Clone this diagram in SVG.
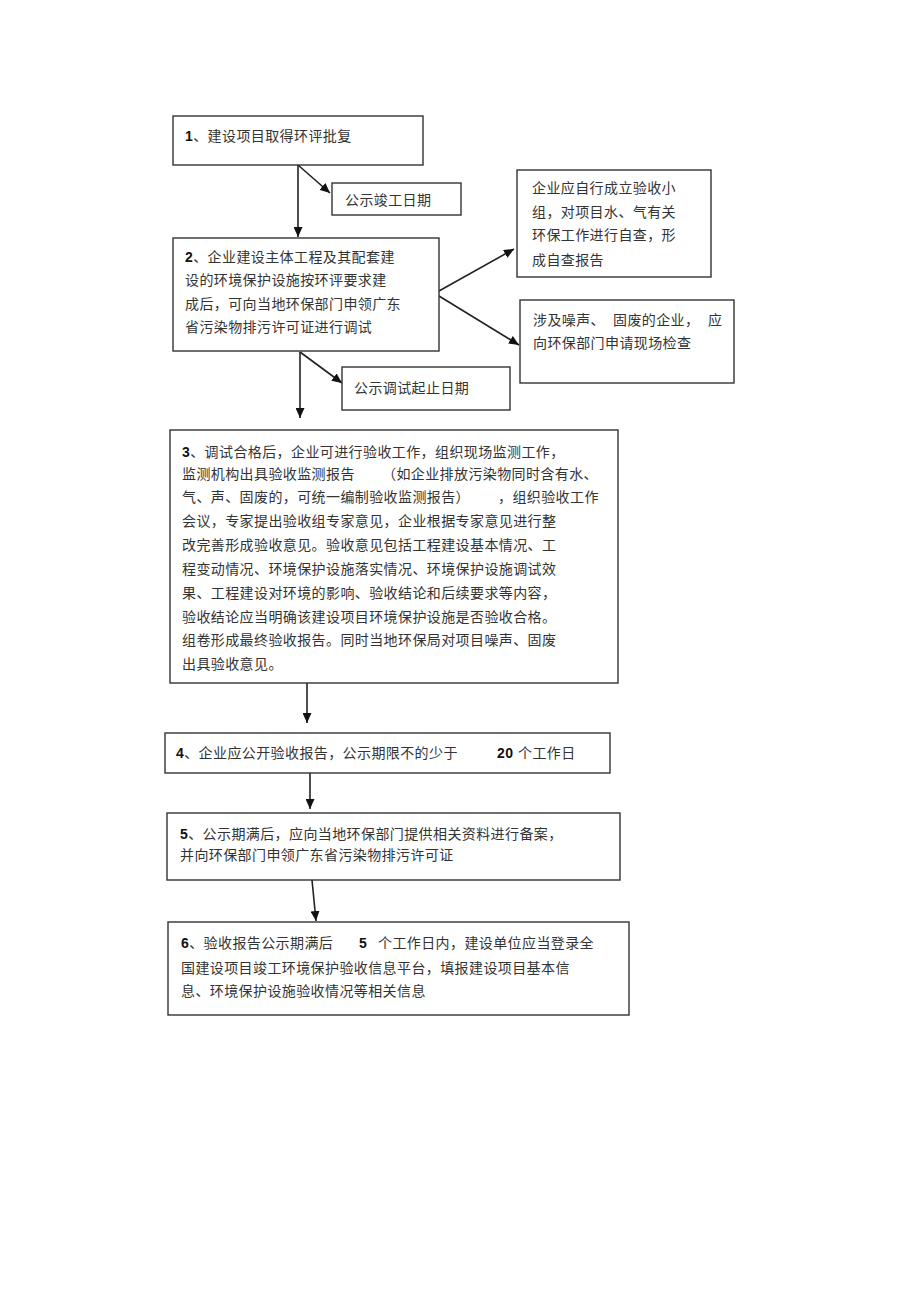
<svg xmlns="http://www.w3.org/2000/svg" width="920" height="1303" viewBox="0 0 920 1303">
<defs>
<marker id="arr" markerUnits="userSpaceOnUse" markerWidth="11" markerHeight="9" refX="10" refY="4.5" orient="auto">
<path d="M0,0 L10,4.5 L0,9 z" fill="#111"/>
</marker>
<style>
.box{fill:#fff;stroke:#333;stroke-width:1.4}
.t{font-family:"Liberation Sans","Noto Sans CJK SC",sans-serif;font-size:14px;letter-spacing:0.4px;fill:#333}
.n{font-weight:bold;fill:#111}
.c{stroke:#222;stroke-width:1.6;fill:none;marker-end:url(#arr)}
</style>
</defs>
<rect width="920" height="1303" fill="#fff"/>
<g id="connectors">
<line class="c" x1="298" y1="165" x2="298" y2="237"/>
<line class="c" x1="298" y1="165" x2="330" y2="193"/>
<line class="c" x1="439" y1="291" x2="514" y2="249"/>
<line class="c" x1="439" y1="296" x2="519" y2="345"/>
<line class="c" x1="300" y1="352" x2="300" y2="418"/>
<line class="c" x1="300" y1="352" x2="342" y2="383"/>
<line class="c" x1="307" y1="683" x2="307" y2="723"/>
<line class="c" x1="310" y1="773" x2="310" y2="809"/>
<line class="c" x1="312" y1="880" x2="316" y2="921"/>
</g>
<g id="node1">
<rect class="box" x="173" y="116" width="250" height="49"/>
<text class="t" x="185" y="141"><tspan class="n">1</tspan>、建设项目取得环评批复</text>
</g>
<g id="node1a">
<rect class="box" x="332" y="183" width="129" height="32"/>
<text class="t" x="345" y="205">公示竣工日期</text>
</g>
<g id="node2">
<rect class="box" x="173" y="238" width="266" height="113"/>
<text class="t" x="185" y="262"><tspan class="n">2</tspan>、企业建设主体工程及其配套建</text>
<text class="t" x="185" y="285">设的环境保护设施按环评要求建</text>
<text class="t" x="185" y="309">成后，可向当地环保部门申领广东</text>
<text class="t" x="185" y="332">省污染物排污许可证进行调试</text>
</g>
<g id="node2a">
<rect class="box" x="342" y="367" width="168" height="43"/>
<text class="t" x="354" y="393">公示调试起止日期</text>
</g>
<g id="node2b">
<rect class="box" x="517" y="170" width="194" height="107"/>
<text class="t" x="532" y="193">企业应自行成立验收小</text>
<text class="t" x="532" y="217">组，对项目水、气有关</text>
<text class="t" x="532" y="240">环保工作进行自查，形</text>
<text class="t" x="532" y="265">成自查报告</text>
</g>
<g id="node2c">
<rect class="box" x="520" y="300" width="214" height="83"/>
<text class="t" x="533" y="325">涉及噪声、<tspan x="613">固废的企业，</tspan><tspan x="708">应</tspan></text>
<text class="t" x="533" y="348">向环保部门申请现场检查</text>
</g>
<g id="node3">
<rect class="box" x="170" y="430" width="448" height="253"/>
<text class="t" x="182" y="457"><tspan class="n">3</tspan>、调试合格后，企业可进行验收工作，组织现场监测工作，</text>
<text class="t" x="182" y="479">监测机构出具验收监测报告<tspan x="382">（如企业排放污染物同时含有水、</tspan></text>
<text class="t" x="182" y="502">气、声、固废的，可统一编制验收监测报告）<tspan x="498">，组织验收工作</tspan></text>
<text class="t" x="182" y="526">会议，专家提出验收组专家意见，企业根据专家意见进行整</text>
<text class="t" x="182" y="550">改完善形成验收意见。验收意见包括工程建设基本情况、工</text>
<text class="t" x="182" y="574">程变动情况、环境保护设施落实情况、环境保护设施调试效</text>
<text class="t" x="182" y="598">果、工程建设对环境的影响、验收结论和后续要求等内容，</text>
<text class="t" x="182" y="622">验收结论应当明确该建设项目环境保护设施是否验收合格。</text>
<text class="t" x="182" y="645">组卷形成最终验收报告。同时当地环保局对项目噪声、固废</text>
<text class="t" x="182" y="669">出具验收意见。</text>
</g>
<g id="node4">
<rect class="box" x="165" y="733" width="445" height="40"/>
<text class="t" x="176" y="758"><tspan class="n">4</tspan>、企业应公开验收报告，公示期限不的少于<tspan x="497" class="n">20</tspan><tspan x="518">个工作日</tspan></text>
</g>
<g id="node5">
<rect class="box" x="167" y="813" width="453" height="67"/>
<text class="t" x="180" y="839"><tspan class="n">5</tspan>、公示期满后，应向当地环保部门提供相关资料进行备案，</text>
<text class="t" x="180" y="860">并向环保部门申领广东省污染物排污许可证</text>
</g>
<g id="node6">
<rect class="box" x="168" y="922" width="461" height="93"/>
<text class="t" x="181" y="948"><tspan class="n">6</tspan>、验收报告公示期满后<tspan x="359" class="n">5</tspan><tspan x="378">个工作日内，建设单位应当登录全</tspan></text>
<text class="t" x="181" y="973">国建设项目竣工环境保护验收信息平台，填报建设项目基本信</text>
<text class="t" x="181" y="996">息、环境保护设施验收情况等相关信息</text>
</g>
</svg>
